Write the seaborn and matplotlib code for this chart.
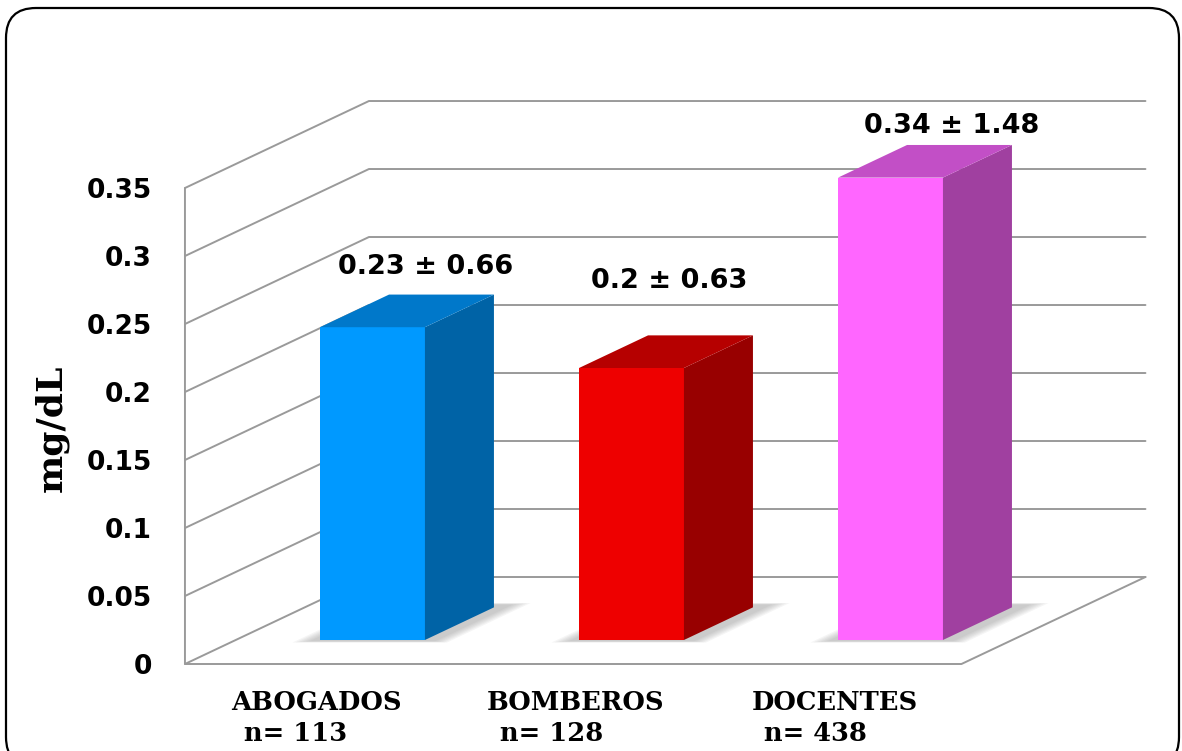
import matplotlib
matplotlib.use("Agg")
import matplotlib.pyplot as plt
import matplotlib.transforms as mtransforms
from matplotlib.patches import Polygon, FancyBboxPatch
import pandas as pd
import seaborn as sns

# ---- data -------------------------------------------------------------
categories = ["ABOGADOS", "BOMBEROS", "DOCENTES"]
sample_sizes = [113, 128, 438]
means = [0.23, 0.20, 0.34]
std_devs = [0.66, 0.63, 1.48]
y_ticks = [0.0, 0.05, 0.10, 0.15, 0.20, 0.25, 0.30, 0.35]
y_tick_labels = ["0", "0.05", "0.1", "0.15", "0.2", "0.25", "0.3", "0.35"]

# ---- styling ----------------------------------------------------------
front_colors = ["#0099FF", "#EE0000", "#FF66FF"]
top_colors = ["#0078CA", "#B60000", "#C24FC6"]
side_colors = ["#0063A6", "#980000", "#A040A0"]
grid_color = "#9A9A9A"
label_lift = [0.044, 0.064, 0.038]    # vertical gap of each value label above its bar
label_shift = [0.205, 0.145, 0.235]   # horizontal offset of each value label

sns.set_theme(style="white")
plt.rcParams["font.family"] = ["DejaVu Sans"]
plt.rcParams["text.color"] = "black"
plt.rcParams["xtick.color"] = "black"
plt.rcParams["ytick.color"] = "black"

W, H = 1182, 751
fig = plt.figure(figsize=(W / 100, H / 100), dpi=100)
ax = fig.add_axes([185 / W, (H - 664) / H, (1145 - 185) / W, (664 - 100) / H])

# oblique projection: world (x, y, depth) -> axes data coordinates
BAR_W = 0.405
D_FRONT = 0.276          # depth of the bars' front faces
D_BACK = 0.651           # depth of the bars' back faces
DX = 184 / 259
DY = 87 / 1360
X_LEFT, X_RIGHT = -0.528, 2.47


def proj(x, y, d):
    return (x + (d - D_FRONT) * DX, y + (d - D_FRONT) * DY)


# ---- walls, floor and gridlines -------------------------------------
line_kw = dict(color=grid_color, lw=1.4, zorder=1, clip_on=False, solid_capstyle="round")
for v in y_ticks:
    pts = [proj(X_LEFT, v, 0), proj(X_LEFT, v, 1), proj(X_RIGHT, v, 1)]
    ax.plot([p[0] for p in pts], [p[1] for p in pts], **line_kw)
pts = [proj(X_LEFT, y_ticks[-1], 0), proj(X_LEFT, 0, 0), proj(X_RIGHT, 0, 0), proj(X_RIGHT, 0, 1)]
ax.plot([p[0] for p in pts], [p[1] for p in pts], **line_kw)

# ---- soft floor shadows -----------------------------------------------
for i in range(len(categories)):
    for k in range(6):
        e = 0.011 * (6 - k)
        xl, xr = i - BAR_W / 2 - 0.02 - e, i + BAR_W / 2 + 0.04 + e
        d0, d1 = D_FRONT - 0.01 - e * 0.3, D_BACK + 0.03 + e * 0.3
        poly = [proj(xl, 0, d0), proj(xr, 0, d0), proj(xr, 0, d1), proj(xl, 0, d1)]
        ax.add_patch(Polygon(poly, closed=True, facecolor="#808080", edgecolor="none",
                             alpha=0.08, zorder=2))

# ---- bars: front faces via seaborn, then side and top faces ----------
df = pd.DataFrame({"grupo": categories, "valor": means})
sns.barplot(data=df, x="grupo", y="valor", hue="grupo", palette=front_colors,
            width=BAR_W, saturation=1, legend=False, ax=ax, linewidth=0,
            zorder=3, errorbar=None)

for i, v in enumerate(means):
    xr, xl = i + BAR_W / 2, i - BAR_W / 2
    side = [proj(xr, 0, D_FRONT), proj(xr, 0, D_BACK), proj(xr, v, D_BACK), proj(xr, v, D_FRONT)]
    top = [proj(xl, v, D_FRONT), proj(xr, v, D_FRONT), proj(xr, v, D_BACK), proj(xl, v, D_BACK)]
    ax.add_patch(Polygon(side, closed=True, facecolor=side_colors[i], edgecolor="none", zorder=3))
    ax.add_patch(Polygon(top, closed=True, facecolor=top_colors[i], edgecolor="none", zorder=3))
    ax.text(i + label_shift[i], v + label_lift[i], f"{v:g} \u00b1 {std_devs[i]:g}",
            ha="center", va="center", fontsize=19.5, fontweight="bold",
            family="DejaVu Sans", color="black", zorder=5)

# ---- axes ---------------------------------------------------------------
ax.set_xlim(-0.7239, 2.9826)
ax.set_ylim(-0.01765, 0.39706)
ax.set_yticks([v - D_FRONT * DY for v in y_ticks])
ax.set_yticklabels(y_tick_labels, fontsize=19, fontweight="bold", family="DejaVu Sans",
                   color="black")
ax.set_xticks([i - D_FRONT * DX - 0.02 for i in range(len(categories))])
ax.set_xticklabels([f"{c}\n\u2002n= {n}" for c, n in zip(categories, sample_sizes)],
                   fontsize=18.5, fontweight="bold", family="DejaVu Serif",
                   multialignment="left", linespacing=1.3, color="black")
ax.tick_params(axis="y", length=0, pad=24)
ax.tick_params(axis="x", length=0, pad=19)
ax.set_xlabel("")
ax.set_ylabel("")
for s in ax.spines.values():
    s.set_visible(False)
ax.grid(False)
ax.patch.set_alpha(0)

fig.text(51 / W, 1 - 428 / H, "mg/dL", rotation=90, ha="center", va="center",
         fontsize=26, fontweight="bold", family="DejaVu Serif", color="black")

# rounded outer frame
frame = FancyBboxPatch((6, -16), 1173, 759, boxstyle="round,pad=0,rounding_size=30",
                       transform=mtransforms.IdentityTransform(), fill=False,
                       edgecolor="black", linewidth=1.6)
fig.add_artist(frame)

fig.savefig("out.png", dpi=100, facecolor="white")
